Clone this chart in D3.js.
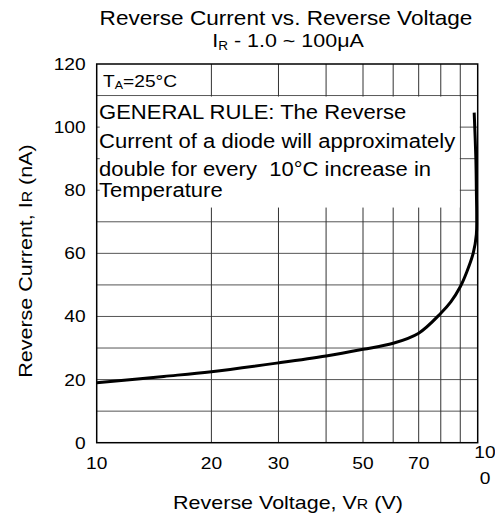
<!DOCTYPE html>
<html>
<head>
<meta charset="utf-8">
<script src="https://cdn.jsdelivr.net/npm/d3@7"></script>
<style>
  body { margin: 0; background: #fff; }
  text { font-family: "Liberation Sans", Arial, sans-serif; fill: #000; white-space: pre; }
</style>
</head>
<body>
<svg id="chart" width="495" height="520"></svg>
<script>
'use strict';

// curve
var voltage = [10, 15, 20, 30, 40, 50, 60, 70, 80, 85, 90, 93.6, 97.4, 99.2, 99.4, 99.2, 98.9, 97.9];
var current = [19.0, 21.0, 22.5, 25.3, 27.5, 29.6, 31.5, 34.7, 41.0, 44.6, 49.4, 54.1, 60.2, 66, 72, 80, 90, 104.6];

var xTicks = [10, 20, 30, 50, 70, 100];
var xGrid = [20, 30, 40, 50, 60, 70, 80, 90];
var yTicks = [0, 20, 40, 60, 80, 100, 120];
var yGrid = [10, 20, 30, 40, 50, 60, 70, 80, 90, 100, 110];
var ruleLines = [
  'GENERAL RULE: The Reverse',
  'Current of a diode will approximately',
  'double for every  10\u00B0C increase in',
  'Temperature'
];

var plotLeft = 96.7, plotRight = 477.7, plotTop = 64, plotBottom = 442.7;
var stretchX = 1.13; // the source font is drawn a bit wide

var x = d3.scaleLog().domain([10, 100]).range([plotLeft, plotRight]);
var y = d3.scaleLinear().domain([0, 120]).range([plotBottom, plotTop]);

var svg = d3.select('#chart');

function wideText(px, py, size, anchor, extra) {
  return svg.append('text')
    .attr('transform', 'translate(' + px + ',' + py + ')' + (extra || '') + ' scale(' + stretchX + ',1)')
    .attr('font-size', size + 'px')
    .attr('text-anchor', anchor || 'start');
}

// grid
svg.append('g')
  .selectAll('line')
  .data(yGrid)
  .enter()
  .append('line')
  .attr('x1', plotLeft).attr('x2', plotRight)
  .attr('y1', function(d) { return y(d); })
  .attr('y2', function(d) { return y(d); })
  .attr('stroke', '#555')
  .attr('stroke-width', 1);

svg.append('g')
  .selectAll('line')
  .data(xGrid)
  .enter()
  .append('line')
  .attr('y1', plotTop).attr('y2', plotBottom)
  .attr('x1', function(d) { return x(d); })
  .attr('x2', function(d) { return x(d); })
  .attr('stroke', '#333')
  .attr('stroke-width', 1);

// white note box over the grid
svg.append('rect')
  .attr('x', plotLeft + 3)
  .attr('y', y(110) + 1)
  .attr('width', x(90) - plotLeft - 3.5)
  .attr('height', 111)
  .attr('fill', '#fff');

svg.append('rect')
  .attr('x', plotLeft + 3)
  .attr('y', plotTop + 2)
  .attr('width', 84)
  .attr('height', y(110) - plotTop - 3)
  .attr('fill', '#fff');

// frame
svg.append('rect')
  .attr('x', plotLeft).attr('y', plotTop)
  .attr('width', plotRight - plotLeft).attr('height', plotBottom - plotTop)
  .attr('fill', 'none')
  .attr('stroke', '#000')
  .attr('stroke-width', 1.5);

// curve
var line = d3.line()
  .x(function(d) { return x(d[0]); })
  .y(function(d) { return y(d[1]); })
  .curve(d3.curveCatmullRom.alpha(0.5));

svg.append('path')
  .datum(d3.zip(voltage, current))
  .attr('d', line)
  .attr('fill', 'none')
  .attr('stroke', '#000')
  .attr('stroke-width', 3);

// axes
var yAxis = svg.append('g')
  .attr('transform', 'translate(' + plotLeft + ',0)')
  .call(d3.axisLeft(y).tickValues(yTicks).tickSize(0).tickPadding(11));
yAxis.select('.domain').remove();
yAxis.selectAll('text')
  .attr('font-size', '17px')
  .attr('font-family', '"Liberation Sans", Arial, sans-serif')
  .attr('transform', function() { return 'translate(-11,0) scale(' + stretchX + ',1)'; })
  .attr('x', 0);

var xAxis = svg.append('g')
  .attr('transform', 'translate(0,' + plotBottom + ')')
  .call(d3.axisBottom(x).tickValues(xTicks).tickSize(0).tickPadding(14)
    .tickFormat(function(d) { return d === 100 ? '' : d; }));
xAxis.select('.domain').remove();
xAxis.selectAll('text')
  .attr('font-size', '17px')
  .attr('font-family', '"Liberation Sans", Arial, sans-serif')
  .attr('transform', 'scale(' + stretchX + ',1)');
xAxis.selectAll('.tick').each(function(d) {
  d3.select(this).attr('transform', 'translate(' + x(d) + ',0)');
});

// 100 label wraps in the original
var last = wideText(485, plotBottom + 15, 17, 'middle');
last.append('tspan').attr('x', 0).attr('y', 0).text('10');
last.append('tspan').attr('x', 0).attr('y', 26).text('0');

// titles
wideText(286, 25, 20, 'middle').text('Reverse Current vs. Reverse Voltage');

var sub = wideText(288, 47, 19, 'middle');
sub.append('tspan').text('I');
sub.append('tspan').attr('font-size', '12px').attr('dy', 3).text('R');
sub.append('tspan').attr('dy', -3).text(' - 1.0 ~ 100\u03BCA');

var xt = wideText(288, 509, 19, 'middle');
xt.append('tspan').text('Reverse Voltage, V');
xt.append('tspan').attr('font-size', '14px').text('R');
xt.append('tspan').text(' (V)');

var yt = svg.append('text')
  .attr('transform', 'translate(32,261) rotate(-90) scale(' + stretchX + ',1)')
  .attr('text-anchor', 'middle')
  .attr('font-size', '19px');
yt.append('tspan').text('Reverse Current, I');
yt.append('tspan').attr('font-size', '14px').text('R');
yt.append('tspan').text(' (nA)');

// annotations
var ta = wideText(103, 87, 17, 'start');
ta.append('tspan').text('T');
ta.append('tspan').attr('font-size', '11px').attr('dy', 2).text('A');
ta.append('tspan').attr('dy', -2).text('=25\u00B0C');

var baselines = [118.5, 148, 175.5, 197];
ruleLines.forEach(function(d, i) {
  wideText(99, baselines[i], 19.5, 'start').text(d);
});
</script>
</body>
</html>
